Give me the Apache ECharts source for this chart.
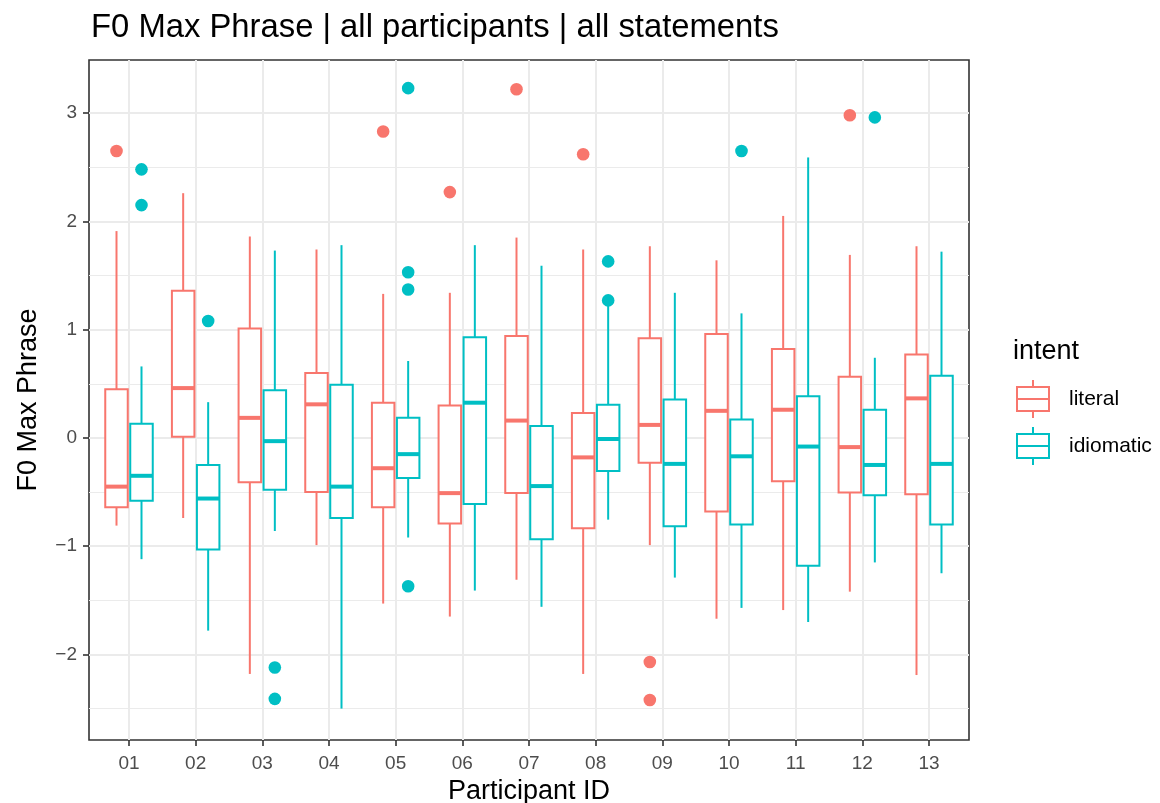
<!DOCTYPE html>
<html>
<head>
<meta charset="utf-8">
<script src="https://cdn.jsdelivr.net/npm/echarts@6/dist/echarts.min.js"></script>
<style>
html, body { margin: 0; padding: 0; background: #fff; }
#chart { width: 1160px; height: 803px; }
</style>
</head>
<body>
<div id="chart"></div>
<script>
// participant ids on the x axis
const participantIds = ['01', '02', '03', '04', '05', '06', '07', '08', '09', '10', '11', '12', '13'];
const intents = ['literal', 'idiomatic'];

// box stats per participant: [lower whisker, Q1, median, Q3, upper whisker]
const literalBoxes = [
    [-0.81, -0.64, -0.45, 0.45, 1.91],
    [-0.74, 0.01, 0.46, 1.36, 2.26],
    [-2.18, -0.41, 0.185, 1.01, 1.86],
    [-0.99, -0.50, 0.31, 0.60, 1.74],
    [-1.53, -0.64, -0.28, 0.325, 1.33],
    [-1.65, -0.79, -0.51, 0.30, 1.34],
    [-1.31, -0.51, 0.16, 0.94, 1.85],
    [-2.18, -0.835, -0.18, 0.23, 1.74],
    [-0.99, -0.23, 0.12, 0.92, 1.77],
    [-1.67, -0.68, 0.25, 0.96, 1.64],
    [-1.59, -0.40, 0.26, 0.82, 2.05],
    [-1.42, -0.505, -0.085, 0.565, 1.69],
    [-2.19, -0.52, 0.365, 0.77, 1.77]
];
const idiomaticBoxes = [
    [-1.12, -0.58, -0.35, 0.13, 0.66],
    [-1.78, -1.03, -0.56, -0.25, 0.33],
    [-0.86, -0.48, -0.03, 0.44, 1.73],
    [-2.50, -0.74, -0.45, 0.49, 1.78],
    [-0.92, -0.37, -0.15, 0.185, 0.71],
    [-1.41, -0.61, 0.325, 0.93, 1.78],
    [-1.56, -0.935, -0.445, 0.11, 1.59],
    [-0.755, -0.305, -0.01, 0.305, 1.25],
    [-1.29, -0.815, -0.24, 0.355, 1.34],
    [-1.57, -0.80, -0.17, 0.17, 1.15],
    [-1.70, -1.18, -0.08, 0.385, 2.59],
    [-1.15, -0.53, -0.25, 0.26, 0.74],
    [-1.25, -0.80, -0.24, 0.575, 1.72]
];

// outliers: [participant number, value]
const literalOutliers = [
    [1, 2.65], [5, 2.83], [6, 2.27], [7, 3.22], [8, 2.62], [9, -2.07], [9, -2.42], [12, 2.98]
];
const idiomaticOutliers = [
    [1, 2.48], [1, 2.15], [2, 1.08], [3, -2.12], [3, -2.41], [5, 3.23], [5, 1.53],
    [5, 1.37], [5, -1.37], [8, 1.27], [8, 1.63], [10, 2.65], [12, 2.96]
];

const yMajorTicks = [-2, -1, 0, 1, 2, 3];
const yMinorTicks = [-2.5, -1.5, -0.5, 0.5, 1.5, 2.5];

const colors = ['#F8766D', '#00BFC4'];
const fontFamily = "'Liberation Sans', Arial, sans-serif";
const xPositions = participantIds.map((id, i) => i + 1);

// dodge offsets, same idea as ggplot dodge2 (width .75, padding .1)
const dodge = 0.1875;
const boxHalf = 0.16875;

function boxRenderer(offset, color) {
    return function (params, api) {
        const unit = api.size([1, 0])[0];
        const cx = api.coord([api.value(0), 0])[0] + offset * unit;
        const hw = boxHalf * unit;
        const yLow = api.coord([0, api.value(1)])[1];
        const yQ1 = api.coord([0, api.value(2)])[1];
        const yMed = api.coord([0, api.value(3)])[1];
        const yQ3 = api.coord([0, api.value(4)])[1];
        const yHigh = api.coord([0, api.value(5)])[1];
        const lw = 2;
        return {
            type: 'group',
            children: [
                {type: 'line', shape: {x1: cx, y1: yHigh, x2: cx, y2: yQ3}, style: {stroke: color, lineWidth: lw}},
                {type: 'line', shape: {x1: cx, y1: yQ1, x2: cx, y2: yLow}, style: {stroke: color, lineWidth: lw}},
                {type: 'rect', shape: {x: cx - hw, y: yQ3, width: hw * 2, height: yQ1 - yQ3},
                    style: {fill: '#fff', stroke: color, lineWidth: lw}},
                {type: 'line', shape: {x1: cx - hw, y1: yMed, x2: cx + hw, y2: yMed}, style: {stroke: color, lineWidth: 4}}
            ]
        };
    };
}

function pointRenderer(offset, color) {
    return function (params, api) {
        const unit = api.size([1, 0])[0];
        const p = api.coord([api.value(0), api.value(1)]);
        return {
            type: 'circle',
            shape: {cx: p[0] + offset * unit, cy: p[1], r: 6.3},
            style: {fill: color}
        };
    };
}

const chart = echarts.init(document.getElementById('chart'));

const legendIcon = 'path://M17,0 L17,7 M1,7 L33,7 L33,31 L1,31 Z M1,19 L33,19 M17,31 L17,38';

chart.setOption({
    backgroundColor: '#fff',
    animation: false,
    textStyle: {fontFamily: fontFamily},
    title: [
        {
            text: 'F0 Max Phrase | all participants | all statements',
            left: 86,
            top: 6,
            textStyle: {fontFamily: fontFamily, fontSize: 32.8, fontWeight: 'normal', color: '#000'}
        },
        {
            text: 'intent',
            left: 1008,
            top: 333,
            textStyle: {fontFamily: fontFamily, fontSize: 27, fontWeight: 'normal', color: '#000'}
        }
    ],
    legend: {
        orient: 'vertical',
        left: 1011,
        top: 374,
        itemWidth: 34,
        itemHeight: 38,
        itemGap: 7,
        textStyle: {fontFamily: fontFamily, fontSize: 21, color: '#000', padding: [0, 0, 0, 14]},
        data: intents.map((name, i) => ({
            name: name,
            icon: legendIcon,
            itemStyle: {color: 'rgba(0,0,0,0)', borderColor: colors[i], borderWidth: 2}
        }))
    },
    grid: {
        left: 89, top: 60, width: 880, height: 680,
        outerBoundsMode: 'none',
        containLabel: false,
        show: true, borderColor: '#333333', borderWidth: 1.6, backgroundColor: 'transparent'
    },
    xAxis: [
        {
            type: 'value',
            min: 0.4,
            max: 13.6,
            name: 'Participant ID',
            nameLocation: 'middle',
            nameGap: 36,
            nameTextStyle: {fontFamily: fontFamily, fontSize: 27, color: '#000'},
            axisLine: {show: false, onZero: false},
            axisTick: {show: true, length: 6, customValues: xPositions, lineStyle: {color: '#333333', width: 1.6}},
            axisLabel: {
                customValues: xPositions, margin: 14,
                fontFamily: fontFamily, fontSize: 19, color: '#4D4D4D',
                formatter: v => participantIds[Math.round(v) - 1] || ''
            },
            splitLine: {show: true, lineStyle: {color: '#EBEBEB', width: 2}}
        }
    ],
    yAxis: [
        {
            type: 'value',
            min: -2.79,
            max: 3.49,
            name: 'F0 Max Phrase',
            nameLocation: 'middle',
            nameGap: 47,
            nameTextStyle: {fontFamily: fontFamily, fontSize: 27, color: '#000'},
            axisLine: {show: false, onZero: false},
            axisTick: {show: true, length: 6, customValues: yMajorTicks, lineStyle: {color: '#333333', width: 1.6}},
            axisLabel: {
                customValues: yMajorTicks, margin: 12,
                fontFamily: fontFamily, fontSize: 19, color: '#4D4D4D',
                formatter: v => (v < 0 ? '\u2212' + Math.abs(v) : String(v))
            },
            splitLine: {show: true, lineStyle: {color: '#EBEBEB', width: 2}},
            z: 1
        },
        {
            type: 'value',
            min: -2.79,
            max: 3.49,
            position: 'left',
            axisLine: {show: false, onZero: false},
            axisTick: {show: false, customValues: yMinorTicks},
            axisLabel: {show: false, customValues: yMinorTicks},
            splitLine: {show: true, lineStyle: {color: '#EBEBEB', width: 1}},
            z: 0
        }
    ],
    series: [
        {
            name: 'literal',
            type: 'custom',
            renderItem: boxRenderer(-dodge, colors[0]),
            itemStyle: {color: colors[0]},
            encode: {x: 0, y: [1, 2, 3, 4, 5]},
            data: literalBoxes.map((b, i) => [xPositions[i]].concat(b)),
            z: 3
        },
        {
            name: 'idiomatic',
            type: 'custom',
            renderItem: boxRenderer(dodge, colors[1]),
            itemStyle: {color: colors[1]},
            encode: {x: 0, y: [1, 2, 3, 4, 5]},
            data: idiomaticBoxes.map((b, i) => [xPositions[i]].concat(b)),
            z: 3
        },
        {
            name: 'literal',
            type: 'custom',
            renderItem: pointRenderer(-dodge, colors[0]),
            encode: {x: 0, y: 1},
            data: literalOutliers,
            z: 4
        },
        {
            name: 'idiomatic',
            type: 'custom',
            renderItem: pointRenderer(dodge, colors[1]),
            encode: {x: 0, y: 1},
            data: idiomaticOutliers,
            z: 4
        }
    ]
});
</script>
</body>
</html>
